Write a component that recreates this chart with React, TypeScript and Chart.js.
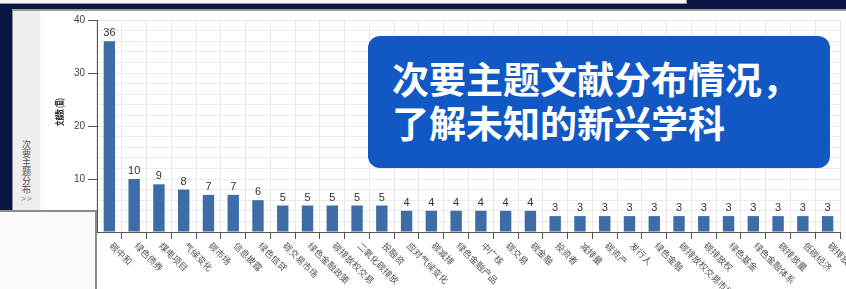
import React, { useEffect, useRef } from 'react';
import { Chart, registerables } from 'chart.js';

Chart.register(...registerables);

const categories: string[] = [
  '碳中和', '绿色债券', '煤电项目', '气候变化', '碳市场', '信息披露', '绿色信贷',
  '碳交易市场', '绿色金融政策', '碳排放权交易', '二氧化碳排放', '投融资',
  '应对气候变化', '碳减排', '绿色金融产品', '中广核', '碳交易', '碳金融',
  '投资者', '减排量', '碳资产', '发行人', '绿色金融', '碳排放权交易市场',
  '碳排放权', '绿色基金', '绿色金融体系', '碳排放量', '低碳经济', '碳排放',
];
const counts: number[] = [
  36, 10, 9, 8, 7, 7, 6, 5, 5, 5, 5, 5, 4, 4, 4, 4, 4, 4,
  3, 3, 3, 3, 3, 3, 3, 3, 3, 3, 3, 3,
];
const yTicksLabelled: number[] = [0, 10, 20, 30, 40];
const yTitle = '文献数 (篇)';
const sideTitle = '次要主题分布';
const calloutLines: string[] = ['次要主题文献分布情况，', '了解未知的新兴学科'];

const textPlugin = {
  id: 'textPlugin',
  afterDatasetsDraw(chart: any) {
    const { ctx, chartArea, scales } = chart;
    const xs = scales.x;
    const ys = scales.y;
    ctx.save();
    ctx.font = '11px "Liberation Sans", Arial, sans-serif';
    ctx.fillStyle = '#333333';
    ctx.textAlign = 'center';
    ctx.textBaseline = 'alphabetic';
    counts.forEach((v, i) => {
      ctx.fillText(String(v), xs.getPixelForValue(i), ys.getPixelForValue(v) - 5);
    });
    ctx.font = '9px "Noto Sans CJK SC", sans-serif';
    ctx.fillStyle = '#555555';
    ctx.textAlign = 'left';
    ctx.textBaseline = 'middle';
    categories.forEach((c, i) => {
      const px = xs.getPixelForValue(i) + 2;
      const py = chartArea.bottom + 12;
      ctx.save();
      ctx.translate(px, py);
      ctx.rotate(Math.PI / 4);
      ctx.fillText(c, 0, 0);
      ctx.restore();
    });
    ctx.font = 'bold 9px "Noto Sans CJK SC", sans-serif';
    ctx.fillStyle = '#222222';
    ctx.textAlign = 'center';
    ctx.textBaseline = 'middle';
    ctx.save();
    ctx.translate(chartArea.left - 37, chartArea.top + 92);
    ctx.rotate(-Math.PI / 2);
    ctx.scale(0.62, 1);
    ctx.fillText(yTitle, 0, 0);
    ctx.restore();
    ctx.restore();
  },
};

export default function App() {
  const canvasRef = useRef<HTMLCanvasElement | null>(null);

  useEffect(() => {
    if (!canvasRef.current) return;
    const chart = new Chart(canvasRef.current, {
      type: 'bar',
      data: {
        labels: categories,
        datasets: [
          {
            data: counts,
            backgroundColor: '#3d6ca6',
            borderWidth: 0,
            categoryPercentage: 1,
            barPercentage: 0.46,
          },
        ],
      },
      plugins: [textPlugin],
      options: {
        animation: false,
        responsive: false,
        maintainAspectRatio: false,
        layout: { padding: { top: 8, right: 6, left: 0, bottom: 0 } },
        plugins: { legend: { display: false }, tooltip: { enabled: false } },
        scales: {
          x: {
            afterFit: (axis: any) => { axis.height = 57; },
            ticks: { display: false },
            grid: {
              offset: true,
              color: '#e8e8e8',
              tickLength: 7,
              tickColor: '#555555',
            },
            border: { color: '#555555', width: 1 },
          },
          y: {
            min: 0,
            max: 40,
            afterFit: (axis: any) => { axis.width = 55; },
            ticks: {
              stepSize: 2,
              autoSkip: false,
              padding: 3,
              color: '#444444',
              font: { size: 10, family: '"Liberation Sans", Arial, sans-serif' },
              callback: (v: any) => (yTicksLabelled.includes(Number(v)) ? String(v) : ''),
            },
            grid: {
              color: '#ebebeb',
              tickLength: 9,
              tickColor: (c: any) =>
                c.tick && yTicksLabelled.includes(c.tick.value) ? '#555555' : 'rgba(0,0,0,0)',
            },
            border: { color: '#555555', width: 1 },
          },
        },
      },
    });
    return () => chart.destroy();
  }, []);

  return (
    <div style={{ position: 'fixed', left: 0, top: 0, width: 846, height: 289, overflow: 'hidden', background: '#0a1744' }}>
      <div style={{ position: 'absolute', left: 0, top: 0, width: 686, height: 3, background: '#f6f6f6', borderRight: '1px solid #999', borderBottom: '1px solid #999' }} />
      <div style={{ position: 'absolute', left: 12, top: 9, width: 834, height: 280, background: '#ffffff', borderTop: '2px solid #9a9a9a', borderLeft: '1px solid #8a8a8a', boxSizing: 'border-box' }} />
      <div style={{ position: 'absolute', left: 13, top: 11, width: 28, height: 278, background: '#eeeeee', borderRight: '1px solid #f8f8f8', boxSizing: 'border-box' }}>
        <div style={{ position: 'absolute', left: 0, width: 27, top: 129, textAlign: 'center', fontFamily: '"Noto Sans CJK SC", sans-serif', fontSize: 9, lineHeight: '9px', color: '#555' }}>
          {Array.from(sideTitle).map((ch, i) => (
            <div key={i}>{ch}</div>
          ))}
        </div>
        <div style={{ position: 'absolute', left: 0, width: 27, top: 183, textAlign: 'center', fontFamily: '"DejaVu Sans", sans-serif', fontSize: 7, color: '#888', lineHeight: '10px' }}>&gt;&gt;</div>
      </div>
      <canvas ref={canvasRef} width={804} height={278} style={{ position: 'absolute', left: 42, top: 11, width: 804, height: 278 }} />
      <div style={{ position: 'absolute', left: 368, top: 36, width: 462, height: 132, background: '#1258c4', borderRadius: 12, boxSizing: 'border-box', paddingTop: 20, paddingLeft: 24 }}>
        {calloutLines.map((l, i) => (
          <div key={i} style={{ fontFamily: '"Noto Sans CJK SC", sans-serif', fontWeight: 700, fontSize: 37, lineHeight: '44px', color: '#ffffff', whiteSpace: 'nowrap' }}>{l}</div>
        ))}
      </div>
      <div style={{ position: 'absolute', left: 0, top: 210, width: 97, height: 79, background: '#fbfbfb', borderTop: '2px solid #8c8c8c', borderRight: '2px solid #8c8c8c', boxSizing: 'border-box' }} />
    </div>
  );
}
